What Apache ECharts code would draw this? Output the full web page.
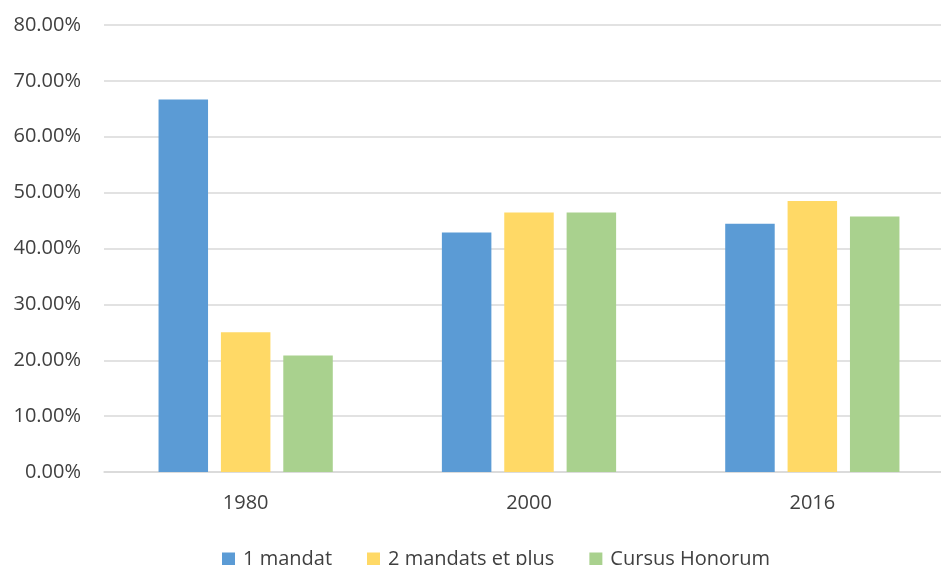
<!DOCTYPE html>
<html><head><meta charset="utf-8">
<script src="https://cdn.jsdelivr.net/npm/echarts@6/dist/echarts.min.js"></script>
<style>html,body{margin:0;padding:0;background:#fff}#c{width:941px;height:565px}</style>
</head><body><div id="c"></div>
<script>
const categories = ['1980', '2000', '2016'];
const seriesNames = ['1 mandat', '2 mandats et plus', 'Cursus Honorum'];
const unMandat = [66.67, 42.86, 44.44];
const deuxMandats = [25.00, 46.43, 48.48];
const cursusHonorum = [20.83, 46.43, 45.71];
const yTicks = [0, 10, 20, 30, 40, 50, 60, 70, 80];
const colors = ['#5B9BD5', '#FFD966', '#A9D18E'];

const font = '"Open Sans", "Noto Sans", sans-serif';
const chart = echarts.init(document.getElementById('c'));
const values = [unMandat, deuxMandats, cursusHonorum];
chart.setOption({
  animation: false,
  grid: { left: 104, top: 25, right: -13, bottom: 93, containLabel: false, outerBoundsMode: 'none' },
  legend: {
    top: 544, left: 217, itemWidth: 13, itemHeight: 13, itemGap: 35,
    icon: 'rect',
    textStyle: { fontFamily: font, fontSize: 20, color: '#404040', padding: [0, 0, 0, 3] },
    data: seriesNames
  },
  xAxis: {
    type: 'category', data: categories,
    axisLine: { lineStyle: { color: '#d9d9d9', width: 1.5 } },
    axisTick: { show: false },
    axisLabel: { fontFamily: font, fontSize: 20, color: '#404040', margin: 21 }
  },
  yAxis: {
    type: 'value', min: yTicks[0], max: yTicks[yTicks.length - 1], interval: 10,
    axisLine: { show: false }, axisTick: { show: false },
    splitLine: { lineStyle: { color: '#d9d9d9', width: 1.5 } },
    axisLabel: { fontFamily: font, fontSize: 20, color: '#404040', margin: 23,
      formatter: v => v.toFixed(2) + '%' }
  },
  series: seriesNames.map((n, i) => ({
    name: n, type: 'bar', data: values[i], barWidth: 49.5, barGap: '26%',
    itemStyle: { color: colors[i] }
  }))
});
</script></body></html>
